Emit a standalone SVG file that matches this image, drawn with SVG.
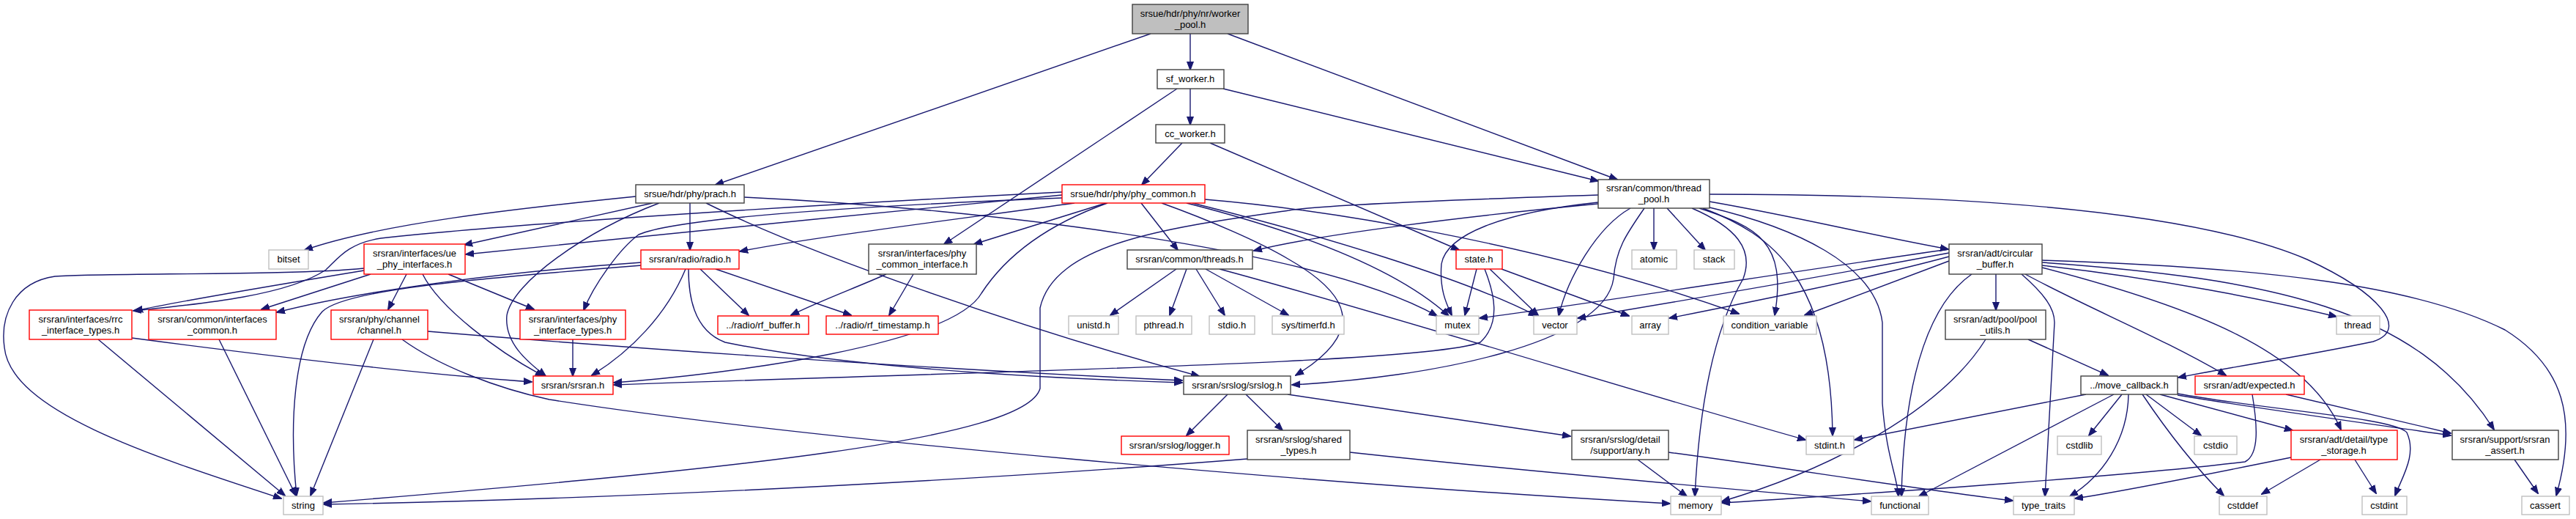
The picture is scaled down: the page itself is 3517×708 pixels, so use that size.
<svg xmlns="http://www.w3.org/2000/svg" width="3517" height="708" viewBox="0 0 3517 708">
<style>
text{font-family:"Liberation Sans",Arial,sans-serif;font-size:13px;text-anchor:middle;fill:#000}
.n rect{fill:#fff;stroke:#404040;stroke-width:1.4}
.r rect{fill:#fff;stroke:#ff0000;stroke-width:1.4}
.g rect{fill:#fff;stroke:#bfbfbf;stroke-width:1.4}
.root rect{fill:#bfbfbf;stroke:#404040;stroke-width:1.4}
#edges path{fill:none;stroke:#191970;stroke-width:1.4;marker-end:url(#a)}
</style>
<defs>
<marker id="a" markerWidth="12" markerHeight="10" refX="11" refY="5" orient="auto" markerUnits="userSpaceOnUse"><path d="M0,0.5 L12,5 L0,9.5z" fill="#191970" stroke="#191970" stroke-width="1"/></marker>
</defs>
<rect width="3517" height="708" fill="#fff"/>
<g id="edges">
<path d="M1571,46 L977,252"/>
<path d="M1625,46 L1625,95"/>
<path d="M1676,46 L2208,245"/>
<path d="M1625,121 L1625,170"/>
<path d="M1607,121 L1289,333"/>
<path d="M1670,121 L2182,247"/>
<path d="M1614,195 L1559,252"/>
<path d="M1652,195 L1992,341"/>
<path d="M868,268 C700,285 520,305 416,341"/>
<path d="M891,277 L634,334"/>
<path d="M900,277 C800,315 700,385 692,430 C688,470 725,497 745,513"/>
<path d="M942,277 L942,341"/>
<path d="M964,277 C1100,345 1400,450 1637,513"/>
<path d="M1016,269 C1350,285 1800,340 1962,431"/>
<path d="M1450,270 C1200,280 930,295 872,320 C845,340 810,390 797,423"/>
<path d="M1450,262 C1100,280 700,305 520,325 C475,332 462,352 445,368 C390,405 260,416 182,424"/>
<path d="M1450,266 C1200,290 800,330 636,347"/>
<path d="M1467,277 C1300,300 1100,325 1010,343"/>
<path d="M1510,277 L1330,333"/>
<path d="M1512,277 C1420,310 1370,354 1340,400 C1300,470 1000,510 838,522"/>
<path d="M1558,277 L1608,341"/>
<path d="M1586,277 C1650,300 1720,330 1760,354 C1840,400 1870,450 1769,512"/>
<path d="M1620,277 C1750,310 1900,360 1978,431"/>
<path d="M1628,277 C1800,320 2000,380 2098,431"/>
<path d="M1645,272 C1800,285 2100,330 2374,428"/>
<path d="M497,366 C400,376 150,372 75,377 C20,385 0,430 6,474 C15,560 200,620 384,680"/>
<path d="M497,369 C400,385 250,410 184,424"/>
<path d="M506,374 L357,422"/>
<path d="M555,374 L530,422"/>
<path d="M612,374 L729,422"/>
<path d="M577,374 C600,420 680,480 742,513"/>
<path d="M876,358 C700,370 500,395 378,426"/>
<path d="M876,362 C650,380 470,395 440,425 C400,470 395,580 405,676"/>
<path d="M936,367 C910,430 860,480 808,512"/>
<path d="M940,367 C940,400 945,450 990,467 C1150,500 1400,515 1614,522"/>
<path d="M956,367 L1022,430"/>
<path d="M977,367 L1162,430"/>
<path d="M1210,374 C1170,392 1120,410 1080,430"/>
<path d="M1247,374 L1214,430"/>
<path d="M180,461 C400,490 600,512 726,521"/>
<path d="M134,463 L389,676"/>
<path d="M299,463 L404,676"/>
<path d="M510,463 L424,676"/>
<path d="M584,452 C800,470 1200,500 1614,519"/>
<path d="M549,463 C600,500 680,530 750,545 C1100,600 1800,660 2280,687"/>
<path d="M782,463 L782,513"/>
<path d="M2016,367 L2000,430"/>
<path d="M2034,367 L2100,430"/>
<path d="M2050,367 L2224,431"/>
<path d="M2027,367 C2040,400 2050,440 2021,467 C1950,495 1400,505 838,525"/>
<path d="M1606,367 L1516,430"/>
<path d="M1620,367 L1597,430"/>
<path d="M1633,367 L1672,430"/>
<path d="M1646,367 L1759,430"/>
<path d="M1665,367 C1900,430 2250,540 2465,600"/>
<path d="M2182,266 C2000,272 1800,280 1760,287 C1600,310 1440,330 1420,420 L1420,530 C1400,600 1000,640 442,686"/>
<path d="M2182,278 C2000,295 1800,320 1712,342"/>
<path d="M2182,276 C2050,290 1975,320 1968,360 C1965,395 1975,415 1982,430"/>
<path d="M2226,284 C2180,310 2140,380 2128,431"/>
<path d="M2245,284 C2220,320 2206,340 2203,380 C2190,470 1950,515 1764,525"/>
<path d="M2258,284 L2258,341"/>
<path d="M2276,284 L2328,341"/>
<path d="M2334,275 C2450,295 2550,320 2660,340"/>
<path d="M2320,284 C2400,310 2440,330 2423,430"/>
<path d="M2325,284 C2420,320 2500,380 2502,594"/>
<path d="M2330,282 C2450,310 2560,360 2570,440 L2570,550 C2575,620 2590,650 2592,677"/>
<path d="M2310,284 C2370,310 2395,340 2380,380 C2340,450 2320,550 2314,677"/>
<path d="M2334,265 C2700,265 3000,290 3150,354 C3250,400 3290,450 3240,466 C3150,485 3050,500 2974,515"/>
<path d="M2661,340 C2450,370 2200,410 2020,434"/>
<path d="M2661,345 C2500,375 2300,410 2154,434"/>
<path d="M2661,350 C2550,380 2400,410 2279,434"/>
<path d="M2661,356 L2464,430"/>
<path d="M2725,374 L2725,423"/>
<path d="M2692,374 C2640,410 2600,500 2596,677"/>
<path d="M2760,374 C2790,400 2805,420 2805,440 L2792,677"/>
<path d="M2765,374 C2850,420 2950,460 3039,512"/>
<path d="M2788,362 C2950,380 3100,410 3190,432"/>
<path d="M2788,365 C3000,420 3150,480 3196,586"/>
<path d="M2788,358 C3100,380 3300,420 3405,586"/>
<path d="M2788,355 C3100,365 3300,390 3420,450 C3500,500 3520,570 3490,676"/>
<path d="M2769,463 L2878,512"/>
<path d="M2711,463 C2650,560 2500,640 2351,684"/>
<path d="M2848,538 L2532,600"/>
<path d="M2886,538 L2620,677"/>
<path d="M2897,538 L2852,594"/>
<path d="M2906,538 C2905,600 2870,650 2826,677"/>
<path d="M2930,538 L3005,594"/>
<path d="M2925,538 C2960,590 3000,640 3036,676"/>
<path d="M2949,538 L3130,587"/>
<path d="M2973,537 C3100,560 3270,570 3286,590 C3300,620 3280,650 3270,676"/>
<path d="M2973,539 C3100,560 3250,580 3346,594"/>
<path d="M3121,538 L3346,591"/>
<path d="M3075,538 C3082,580 3085,620 3065,630 C2900,650 2600,670 2351,686"/>
<path d="M3168,627 L3088,674"/>
<path d="M3215,627 L3244,673"/>
<path d="M3128,624 C3000,650 2900,670 2833,680"/>
<path d="M3433,627 L3465,673"/>
<path d="M1676,538 L1620,594"/>
<path d="M1701,538 L1751,587"/>
<path d="M1758,538 L2144,595"/>
<path d="M1703,626 C1400,650 900,680 442,688"/>
<path d="M1843,617 C2100,645 2400,670 2554,684"/>
<path d="M2236,627 L2303,677"/>
<path d="M2278,617 C2450,640 2600,665 2748,683"/>
</g>
<g id="n_worker_pool" class="root"><rect x="1546" y="6" width="158" height="40"/><text x="1625" y="23">srsue/hdr/phy/nr/worker</text><text x="1625" y="38">_pool.h</text></g>
<g id="n_sf_worker" class="n"><rect x="1580" y="95" width="91" height="26"/><text x="1625" y="112">sf_worker.h</text></g>
<g id="n_cc_worker" class="n"><rect x="1578" y="170" width="94" height="25"/><text x="1625" y="187">cc_worker.h</text></g>
<g id="n_prach" class="n"><rect x="868" y="252" width="148" height="25"/><text x="942" y="269">srsue/hdr/phy/prach.h</text></g>
<g id="n_phy_common" class="r"><rect x="1450" y="252" width="195" height="25"/><text x="1547" y="269">srsue/hdr/phy/phy_common.h</text></g>
<g id="n_thread_pool" class="n"><rect x="2182" y="245" width="152" height="39"/><text x="2258" y="261">srsran/common/thread</text><text x="2258" y="276">_pool.h</text></g>
<g id="n_bitset" class="g"><rect x="367" y="341" width="54" height="26"/><text x="394" y="358">bitset</text></g>
<g id="n_ue_phy" class="r"><rect x="497" y="333" width="138" height="41"/><text x="566" y="350">srsran/interfaces/ue</text><text x="566" y="365">_phy_interfaces.h</text></g>
<g id="n_radio" class="r"><rect x="875" y="341" width="134" height="26"/><text x="942" y="358">srsran/radio/radio.h</text></g>
<g id="n_pci" class="n"><rect x="1186" y="333" width="147" height="41"/><text x="1259" y="350">srsran/interfaces/phy</text><text x="1259" y="365">_common_interface.h</text></g>
<g id="n_threads" class="n"><rect x="1539" y="341" width="171" height="26"/><text x="1624" y="358">srsran/common/threads.h</text></g>
<g id="n_state" class="r"><rect x="1988" y="341" width="63" height="26"/><text x="2019" y="358">state.h</text></g>
<g id="n_atomic" class="g"><rect x="2228" y="341" width="61" height="26"/><text x="2258" y="358">atomic</text></g>
<g id="n_stack" class="g"><rect x="2313" y="341" width="55" height="26"/><text x="2340" y="358">stack</text></g>
<g id="n_circ" class="n"><rect x="2661" y="333" width="127" height="41"/><text x="2724" y="350">srsran/adt/circular</text><text x="2724" y="365">_buffer.h</text></g>
<g id="n_rrc" class="r"><rect x="40" y="423" width="140" height="40"/><text x="110" y="440">srsran/interfaces/rrc</text><text x="110" y="455">_interface_types.h</text></g>
<g id="n_ifc" class="r"><rect x="203" y="423" width="174" height="40"/><text x="290" y="440">srsran/common/interfaces</text><text x="290" y="455">_common.h</text></g>
<g id="n_channel" class="r"><rect x="452" y="423" width="132" height="40"/><text x="518" y="440">srsran/phy/channel</text><text x="518" y="455">/channel.h</text></g>
<g id="n_pit" class="r"><rect x="710" y="423" width="144" height="40"/><text x="782" y="440">srsran/interfaces/phy</text><text x="782" y="455">_interface_types.h</text></g>
<g id="n_rfbuf" class="r"><rect x="980" y="431" width="124" height="25"/><text x="1042" y="448">../radio/rf_buffer.h</text></g>
<g id="n_rfts" class="r"><rect x="1128" y="431" width="153" height="25"/><text x="1205" y="448">../radio/rf_timestamp.h</text></g>
<g id="n_unistd" class="g"><rect x="1459" y="431" width="68" height="25"/><text x="1493" y="448">unistd.h</text></g>
<g id="n_pthread" class="g"><rect x="1551" y="431" width="76" height="25"/><text x="1589" y="448">pthread.h</text></g>
<g id="n_stdio" class="g"><rect x="1651" y="431" width="62" height="25"/><text x="1682" y="448">stdio.h</text></g>
<g id="n_timerfd" class="g"><rect x="1737" y="431" width="98" height="25"/><text x="1786" y="448">sys/timerfd.h</text></g>
<g id="n_mutex" class="g"><rect x="1961" y="431" width="58" height="25"/><text x="1990" y="448">mutex</text></g>
<g id="n_vector" class="g"><rect x="2094" y="431" width="59" height="25"/><text x="2123" y="448">vector</text></g>
<g id="n_array" class="g"><rect x="2228" y="431" width="50" height="25"/><text x="2253" y="448">array</text></g>
<g id="n_condvar" class="g"><rect x="2353" y="431" width="127" height="25"/><text x="2416" y="448">condition_variable</text></g>
<g id="n_pool_utils" class="n"><rect x="2656" y="423" width="137" height="40"/><text x="2724" y="440">srsran/adt/pool/pool</text><text x="2724" y="455">_utils.h</text></g>
<g id="n_thread" class="g"><rect x="3190" y="431" width="59" height="25"/><text x="3219" y="448">thread</text></g>
<g id="n_srsran" class="r"><rect x="728" y="513" width="109" height="25"/><text x="782" y="530">srsran/srsran.h</text></g>
<g id="n_srslog" class="n"><rect x="1616" y="513" width="146" height="25"/><text x="1689" y="530">srsran/srslog/srslog.h</text></g>
<g id="n_move_cb" class="n"><rect x="2841" y="513" width="132" height="25"/><text x="2907" y="530">../move_callback.h</text></g>
<g id="n_expected" class="r"><rect x="2997" y="513" width="149" height="25"/><text x="3071" y="530">srsran/adt/expected.h</text></g>
<g id="n_logger" class="r"><rect x="1531" y="595" width="147" height="25"/><text x="1604" y="612">srsran/srslog/logger.h</text></g>
<g id="n_shared" class="n"><rect x="1703" y="587" width="140" height="40"/><text x="1773" y="604">srsran/srslog/shared</text><text x="1773" y="619">_types.h</text></g>
<g id="n_any" class="n"><rect x="2146" y="587" width="132" height="40"/><text x="2212" y="604">srsran/srslog/detail</text><text x="2212" y="619">/support/any.h</text></g>
<g id="n_stdint" class="g"><rect x="2466" y="595" width="65" height="25"/><text x="2498" y="612">stdint.h</text></g>
<g id="n_cstdlib" class="g"><rect x="2809" y="595" width="60" height="25"/><text x="2839" y="612">cstdlib</text></g>
<g id="n_cstdio" class="g"><rect x="2996" y="595" width="58" height="25"/><text x="3025" y="612">cstdio</text></g>
<g id="n_type_storage" class="r"><rect x="3128" y="587" width="145" height="40"/><text x="3200" y="604">srsran/adt/detail/type</text><text x="3200" y="619">_storage.h</text></g>
<g id="n_assert" class="n"><rect x="3348" y="587" width="145" height="40"/><text x="3420" y="604">srsran/support/srsran</text><text x="3420" y="619">_assert.h</text></g>
<g id="n_string" class="g"><rect x="387" y="677" width="54" height="25"/><text x="414" y="694">string</text></g>
<g id="n_memory" class="g"><rect x="2281" y="677" width="69" height="25"/><text x="2315" y="694">memory</text></g>
<g id="n_functional" class="g"><rect x="2555" y="677" width="78" height="25"/><text x="2594" y="694">functional</text></g>
<g id="n_type_traits" class="g"><rect x="2749" y="677" width="83" height="25"/><text x="2790" y="694">type_traits</text></g>
<g id="n_cstddef" class="g"><rect x="3030" y="677" width="65" height="25"/><text x="3062" y="694">cstddef</text></g>
<g id="n_cstdint" class="g"><rect x="3225" y="677" width="61" height="25"/><text x="3255" y="694">cstdint</text></g>
<g id="n_cassert" class="g"><rect x="3443" y="677" width="65" height="25"/><text x="3475" y="694">cassert</text></g>
</svg>
